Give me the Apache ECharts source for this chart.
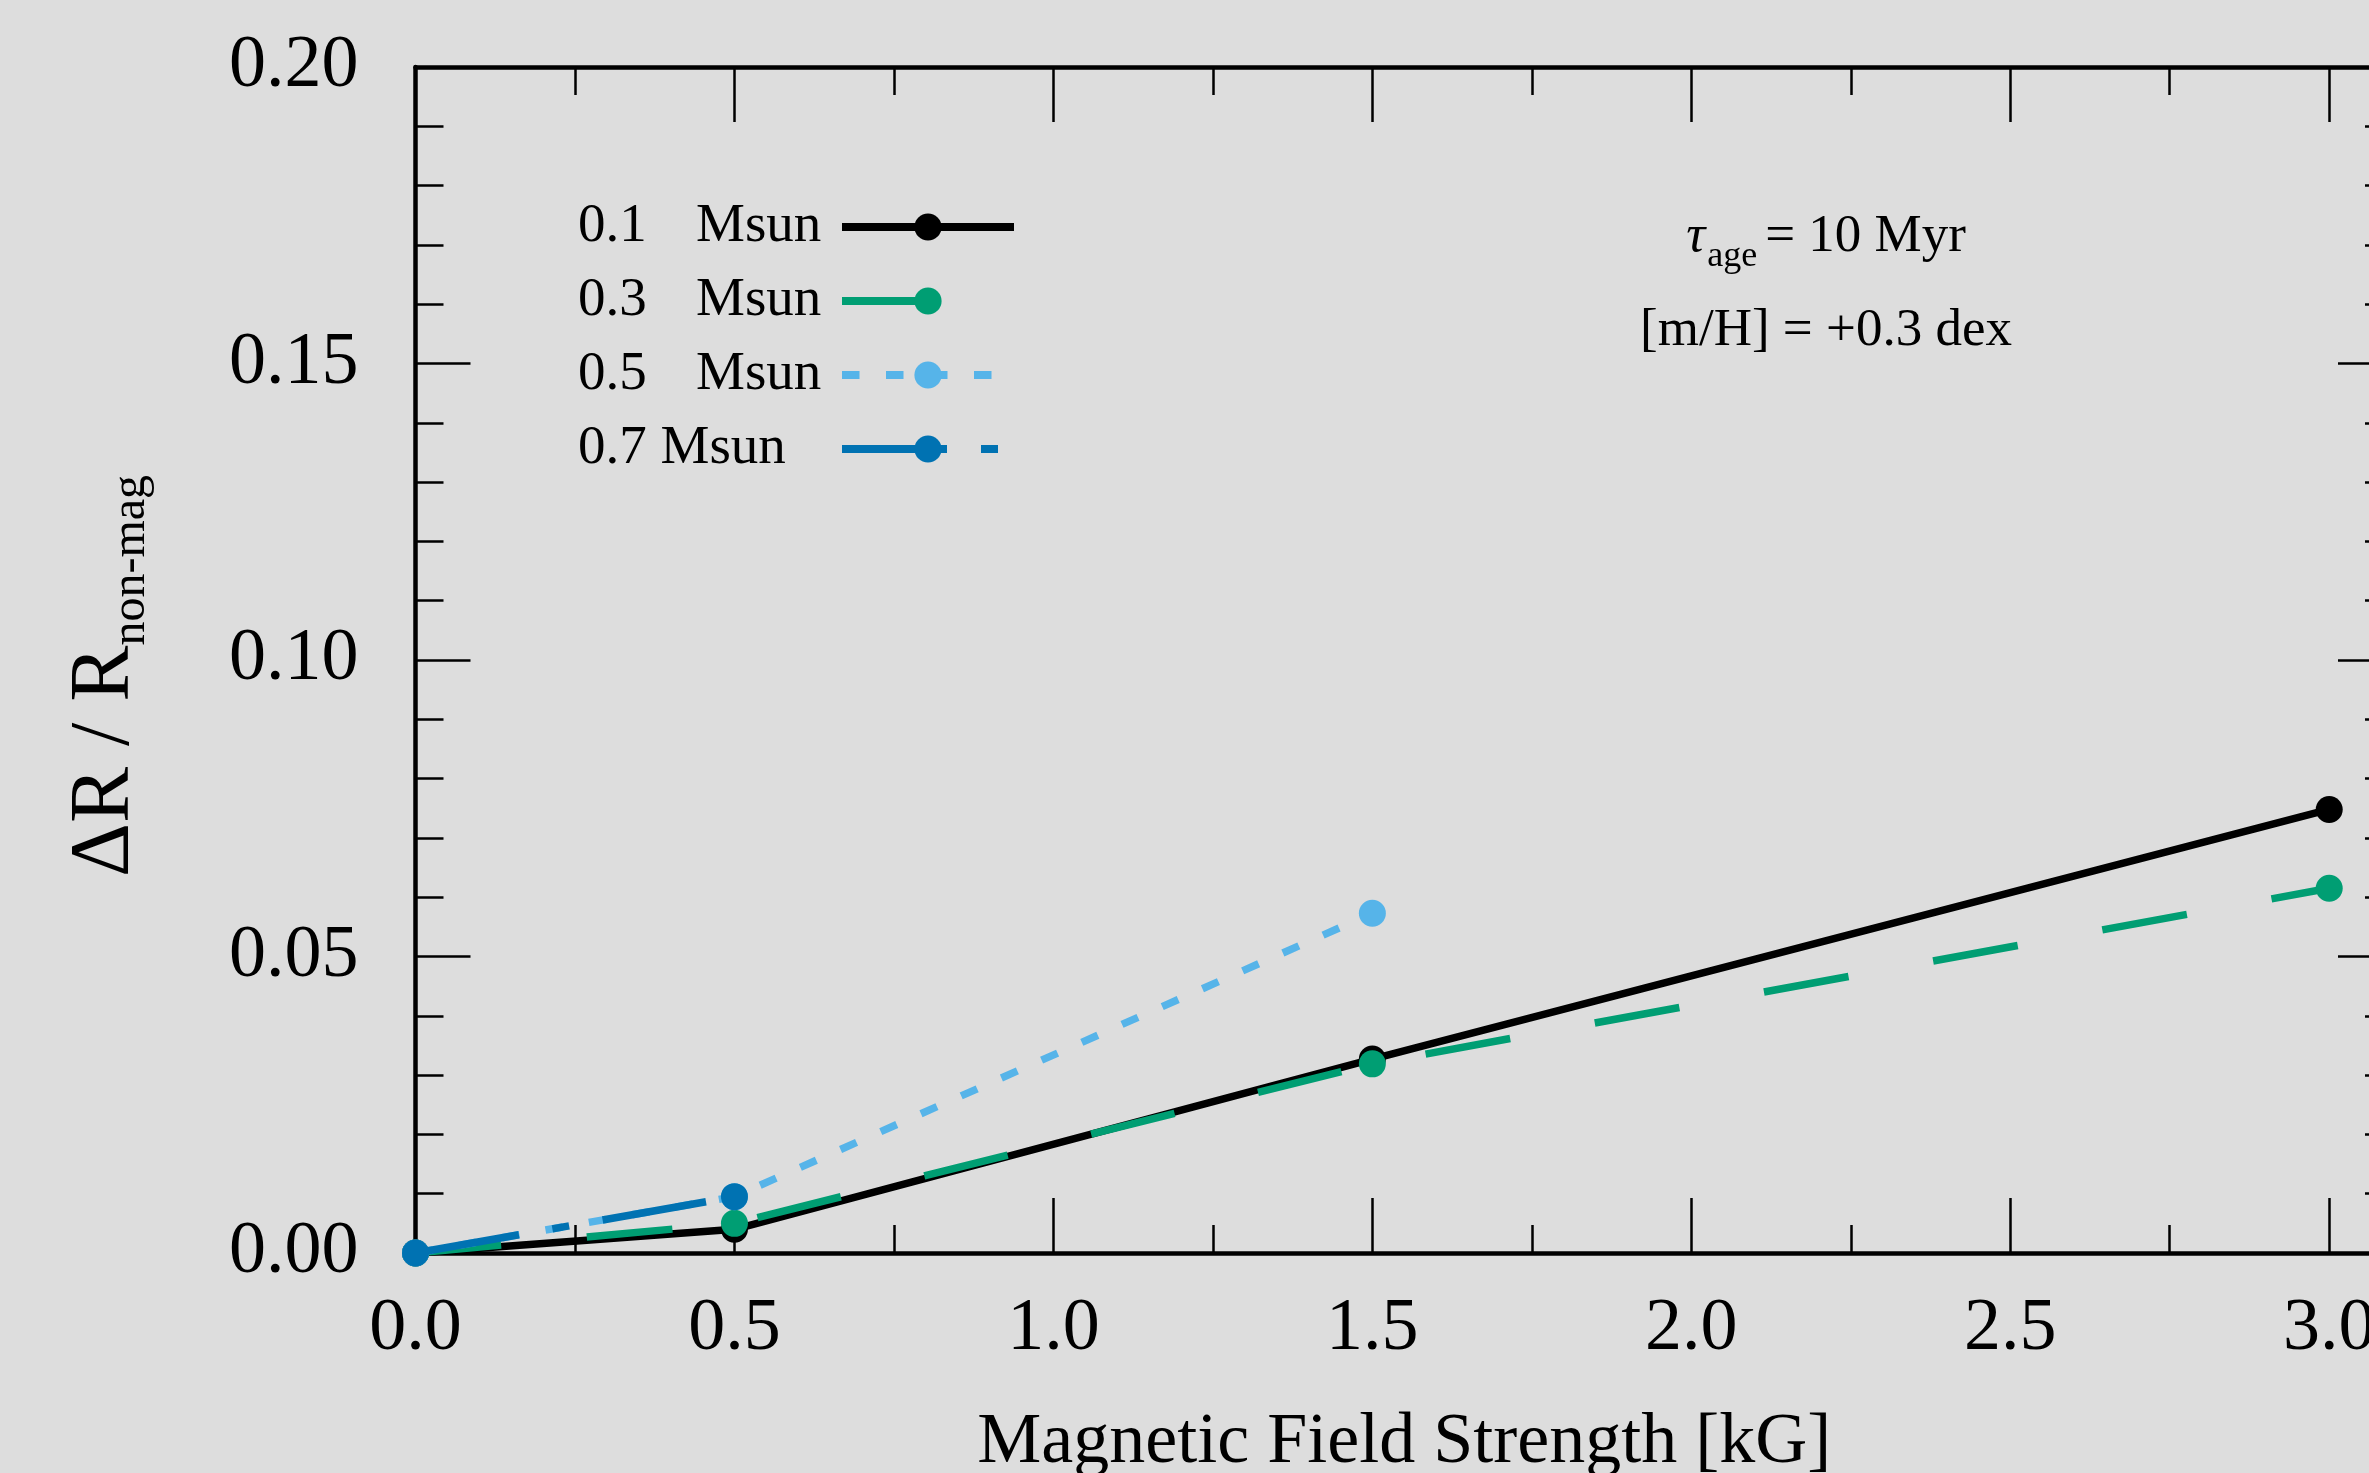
<!DOCTYPE html>
<html>
<head>
<meta charset="utf-8">
<script src="https://cdn.jsdelivr.net/npm/echarts@6/dist/echarts.min.js"></script>
<style>
html,body{margin:0;padding:0;background:#dddddd;}
#chart{width:2369px;height:1473px;}
</style>
</head>
<body>
<div id="chart"></div>
<script>
// ---- data ----
const fieldKG_01 = [0, 0.5, 1.5, 3.0];
const dR_01 = [0, 0.0040, 0.0327, 0.0748];
const fieldKG_03 = [0, 0.5, 1.5, 3.0];
const dR_03 = [0, 0.0050, 0.0319, 0.0615];
const fieldKG_05 = [0, 0.5, 1.5];
const dR_05 = [0, 0.0095, 0.0573];
const fieldKG_07 = [0, 0.5];
const dR_07 = [0, 0.0095];
const seriesNames = ['0.1    Msun', '0.3    Msun', '0.5    Msun', '0.7 Msun'];
const xTicksMajor = 0.5, xTicksMinor = 0.25;
const yTicksMajor = 0.05;

const FONT = "'Liberation Serif', 'Times New Roman', serif";
const pairs = (xs, ys) => xs.map((x, i) => [x, ys[i]]);

const chart = echarts.init(document.getElementById('chart'), null, {renderer: 'canvas'});

const tickStyle = {color: '#000', width: 2.5};
function xAx(pos, interval, len, main) {
  return {
    type: 'value', position: pos, min: 0, max: 3.1, interval: interval,
    axisLine: {show: main, onZero: false, lineStyle: {color: '#000', width: 4.5}},
    axisTick: {show: true, inside: true, length: len, lineStyle: tickStyle},
    axisLabel: {show: false},
    splitLine: {show: false}
  };
}
const xBottom = xAx('bottom', xTicksMajor, 55, true);
xBottom.axisLabel = {
  show: true, margin: 40, fontFamily: FONT, fontSize: 74, color: '#000',
  showMaxLabel: false, formatter: v => v.toFixed(1)
};
xBottom.name = 'Magnetic Field Strength [kG]';
xBottom.nameLocation = 'middle';
xBottom.nameGap = 154;
xBottom.nameTextStyle = {fontFamily: FONT, fontSize: 72, color: '#000'};

function yAx(pos, main) {
  return {
    type: 'value', position: pos, min: 0, max: 0.2, interval: yTicksMajor,
    axisLine: {show: true, onZero: false, lineStyle: {color: '#000', width: 4.5}},
    axisTick: {show: true, inside: true, length: 55, lineStyle: tickStyle},
    minorTick: {show: true, splitNumber: 5, length: 28, lineStyle: tickStyle},
    axisLabel: {show: false},
    splitLine: {show: false}
  };
}
const yLeft = yAx('left', true);
yLeft.axisLabel = {show: true, margin: 57, fontFamily: FONT, fontSize: 74, color: '#000',
  formatter: v => v.toFixed(2)};
yLeft.name = '{m|ΔR / R}{s|non-mag}';
yLeft.nameLocation = 'middle';
yLeft.nameGap = 268;
yLeft.nameTextStyle = {
  fontFamily: FONT, color: '#000', padding: [0, 32, 0, 0],
  rich: {
    m: {fontFamily: FONT, fontSize: 84, lineHeight: 84, verticalAlign: 'top', color: '#000'},
    s: {fontFamily: FONT, fontSize: 48, lineHeight: 48, padding: [44, 0, 0, 0], verticalAlign: 'top', color: '#000'}
  }
};

const styles = [
  {color: '#000000', dash: 'solid'},
  {color: '#009E73', dash: [86, 86]},
  {color: '#56B4E9', dash: [17.5, 26.5]},
  {color: '#0072B2', dash: [105, 34, 17, 34]}
];
const datasets = [pairs(fieldKG_01, dR_01), pairs(fieldKG_03, dR_03), pairs(fieldKG_05, dR_05), pairs(fieldKG_07, dR_07)];

const series = datasets.map((d, i) => ({
  name: seriesNames[i],
  type: 'line',
  xAxisIndex: 0, yAxisIndex: 0,
  data: d,
  symbol: 'circle', symbolSize: 27, showSymbol: true,
  animation: false,
  itemStyle: {color: styles[i].color},
  lineStyle: {color: styles[i].color, width: 7.5, type: styles[i].dash, cap: 'butt'},
  z: 2 + i
}));

const legendFont = {fontFamily: FONT, fontSize: 55, color: '#000', align: 'left'};
chart.setOption({
  backgroundColor: '#dddddd',
  animation: false,
  grid: {left: 415.5, top: 67, width: 1977.5, height: 1186, containLabel: false, outerBoundsMode: 'none'},
  xAxis: [xBottom, xAx('bottom', xTicksMinor, 28, false), xAx('top', xTicksMajor, 55, true), xAx('top', xTicksMinor, 28, false)],
  yAxis: [yLeft, yAx('right', true)],
  legend: {
    show: true, orient: 'vertical', left: 573, top: 194.5, align: 'right',
    itemWidth: 172, itemHeight: 34, itemGap: 19, selectedMode: false,
    data: seriesNames,
    lineStyle: {width: 8},
    formatter: name => {
      const m = name.match(/^(\S+)(\s+)(.*)$/);
      if (m && m[2].length > 1) return '{n|' + m[1] + '}{u|' + m[3] + '}';
      return '{w|' + name + '}';
    },
    textStyle: {
      fontFamily: FONT, fontSize: 55, color: '#000',
      rich: {
        n: Object.assign({width: 118}, legendFont),
        u: Object.assign({width: 141}, legendFont),
        w: Object.assign({width: 259}, legendFont)
      }
    }
  },
  graphic: [
    {type: 'text', x: 1826, y: 237, silent: true, style: {
      text: '{t|τ}{s|age}{m|= 10 Myr}', textAlign: 'center', textVerticalAlign: 'middle',
      fill: '#000', font: '53px ' + FONT,
      rich: {
        t: {fontFamily: FONT, fontSize: 53, fontStyle: 'italic', lineHeight: 53, verticalAlign: 'top', fill: '#000'},
        s: {fontFamily: FONT, fontSize: 36, lineHeight: 36, padding: [28, 8, 0, 2], verticalAlign: 'top', fill: '#000'},
        m: {fontFamily: FONT, fontSize: 53, lineHeight: 53, verticalAlign: 'top', fill: '#000'}
      }
    }},
    {type: 'text', x: 1826, y: 331, silent: true, style: {
      text: '[m/H] = +0.3 dex', textAlign: 'center', textVerticalAlign: 'middle',
      fill: '#000', font: '53px ' + FONT
    }}
  ],
  series: series
});
</script>
</body>
</html>
